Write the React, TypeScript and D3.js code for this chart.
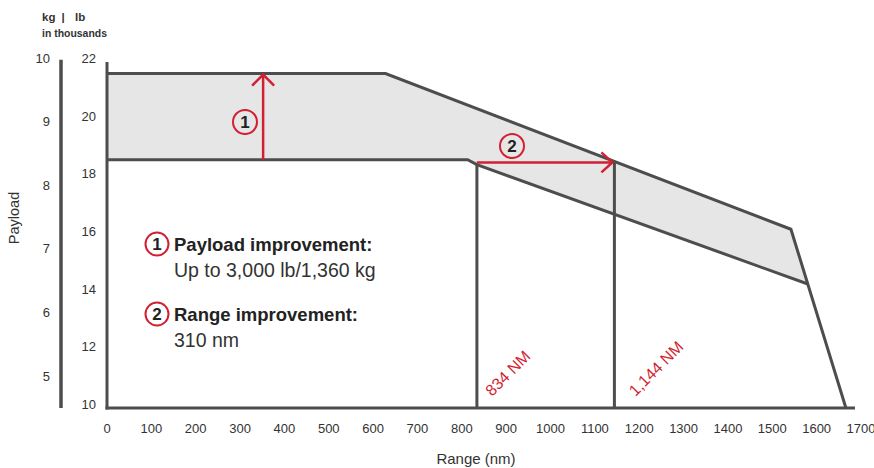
import React from "react";
import * as d3 from "d3";

const rangeTicks = [0, 100, 200, 300, 400, 500, 600, 700, 800, 900, 1000, 1100, 1200, 1300, 1400, 1500, 1600, 1700];
const lbTicks = [10, 12, 14, 16, 18, 20, 22];
const kgTicks = [5, 6, 7, 8, 9, 10];
// [range nm, payload thousand lb]
const newEnvelope: [number, number][] = [[0, 21.6], [628, 21.6], [1542, 16.2], [1666, 10]];
const oldEnvelope: [number, number][] = [[0, 18.61], [813, 18.61], [834, 18.44], [1580, 14.3]];
const oldRange = 834;
const newRange = 1144;
const payloadArrowRange = 352;
const LB_PER_KG = 2.20462;

const W = 874, H = 468;
const DARK = "#4d4d4d";
const RED = "#d21f33";
const NARROW = "'Liberation Sans Narrow', 'Arial Narrow', 'Liberation Sans', sans-serif";
const SANS = "'Liberation Sans', Arial, sans-serif";

export default function App() {
  const x = d3.scaleLinear().domain([0, 1700]).range([107, 861]);
  const y = d3.scaleLinear().domain([10, 22]).range([408, 62]);
  const line = d3.line<[number, number]>().x(d => x(d[0])).y(d => y(d[1]));

  const fillPts: [number, number][] = [
    ...newEnvelope.slice(0, 3),
    oldEnvelope[oldEnvelope.length - 1],
    ...oldEnvelope.slice(0, -1).reverse(),
  ];

  const interp = (pts: [number, number][], r: number) => {
    for (let i = 0; i < pts.length - 1; i++) {
      const [r0, p0] = pts[i], [r1, p1] = pts[i + 1];
      if (r >= r0 && r <= r1) return p0 + ((r - r0) / (r1 - r0)) * (p1 - p0);
    }
    return pts[pts.length - 1][1];
  };
  const newAtNewRange = interp(newEnvelope, newRange);
  const oldAtOldRange = interp(oldEnvelope, oldRange);
  const topPayload = newEnvelope[0][1];
  const basePayload = oldEnvelope[0][1];

  const ax = x(payloadArrowRange);
  const ay0 = y(basePayload), ay1 = y(topPayload);
  const hx0 = x(oldRange), hx1 = x(newRange) - 2;
  const hy = y(newAtNewRange) + 1;

  const Badge = ({ cx, cy, n, r = 12 }: { cx: number; cy: number; n: string; r?: number }) => (
    <g>
      <circle cx={cx} cy={cy} r={r} fill="none" stroke={RED} strokeWidth={2} />
      <text x={cx} y={cy + 6} textAnchor="middle" fontFamily={SANS} fontWeight="bold" fontSize={17} fill="#222">{n}</text>
    </g>
  );

  return (
    <svg width={W} height={H} style={{ position: "absolute", left: 0, top: 0, background: "#fff" }}>
      <path d={line(fillPts)! + "Z"} fill="#e6e6e6" />

      <path d={line(newEnvelope)!} fill="none" stroke={DARK} strokeWidth={3} />
      <path d={line(oldEnvelope)!} fill="none" stroke={DARK} strokeWidth={3} />
      <line x1={x(oldRange)} x2={x(oldRange)} y1={y(oldAtOldRange)} y2={y(10)} stroke={DARK} strokeWidth={3} />
      <line x1={x(newRange)} x2={x(newRange)} y1={y(newAtNewRange)} y2={y(10)} stroke={DARK} strokeWidth={3} />

      <line x1={x(0)} x2={x(0)} y1={y(22)} y2={y(10) + 1.5} stroke={DARK} strokeWidth={3} />
      <line x1={x(0) - 1.5} x2={x(1700) - 6} y1={y(10)} y2={y(10)} stroke={DARK} strokeWidth={3} />
      <line x1={61} x2={61} y1={y(10 * LB_PER_KG) - 1} y2={y(10)} stroke={DARK} strokeWidth={3.5} />

      {rangeTicks.map(t => (
        <text key={t} x={x(t)} y={433} textAnchor="middle" fontFamily={NARROW} fontSize={13} fill="#333">{t}</text>
      ))}
      {lbTicks.map(t => (
        <text key={t} x={96} y={y(t) + 1} textAnchor="end" fontFamily={NARROW} fontSize={13} fill="#333">{t}</text>
      ))}
      {kgTicks.map(t => (
        <text key={t} x={50} y={y(t * LB_PER_KG) + 2} textAnchor="end" fontFamily={NARROW} fontSize={13} fill="#333">{t}</text>
      ))}

      <text x={476} y={464} textAnchor="middle" fontFamily={NARROW} fontSize={15} fill="#333">Range (nm)</text>
      <text transform={`translate(19,218) rotate(-90)`} textAnchor="middle" fontFamily={SANS} fontSize={14.5} fill="#333">Payload</text>
      <text x={42} y={21} fontFamily={NARROW} fontWeight="bold" fontSize={11.5} fill="#333">kg</text>
      <text x={63} y={21} textAnchor="middle" fontFamily={NARROW} fontWeight="bold" fontSize={11.5} fill="#333">|</text>
      <text x={75} y={21} fontFamily={NARROW} fontWeight="bold" fontSize={11.5} fill="#333">lb</text>
      <text x={42} y={37} fontFamily={NARROW} fontWeight="bold" fontSize={11.5} fill="#333" textLength={65} lengthAdjust="spacingAndGlyphs">in thousands</text>

      <line x1={ax} x2={ax} y1={ay0} y2={ay1 + 1} stroke={RED} strokeWidth={2.5} />
      <polyline points={`${ax - 11},${ay1 + 12} ${ax},${ay1 + 1} ${ax + 11},${ay1 + 12}`} fill="none" stroke={RED} strokeWidth={2.5} />
      <Badge cx={245} cy={122} n="1" />

      <line x1={hx0} x2={hx1} y1={hy} y2={hy} stroke={RED} strokeWidth={2.5} />
      <polyline points={`${hx1 - 11},${hy - 10} ${hx1},${hy} ${hx1 - 11},${hy + 10}`} fill="none" stroke={RED} strokeWidth={2.5} />
      <Badge cx={512} cy={146} n="2" />

      <text transform={`translate(${x(oldRange) + 15},${397}) rotate(-45)`} fontFamily={SANS} fontSize={16} fill={RED}>834 NM</text>
      <text transform={`translate(${x(newRange) + 21},${397}) rotate(-45)`} fontFamily={SANS} fontSize={16} fill={RED}>1,144 NM</text>

      <Badge cx={157} cy={244} n="1" r={11.5} />
      <text x={174} y={251} fontFamily={SANS} fontWeight="bold" fontSize={18.5} fill="#222">Payload improvement:</text>
      <text x={174} y={277} fontFamily={SANS} fontSize={19.5} fill="#333">Up to 3,000 lb/1,360 kg</text>
      <Badge cx={157} cy={314} n="2" r={11.5} />
      <text x={174} y={321} fontFamily={SANS} fontWeight="bold" fontSize={18.5} fill="#222">Range improvement:</text>
      <text x={174} y={347} fontFamily={SANS} fontSize={19.5} fill="#333">310 nm</text>
    </svg>
  );
}
